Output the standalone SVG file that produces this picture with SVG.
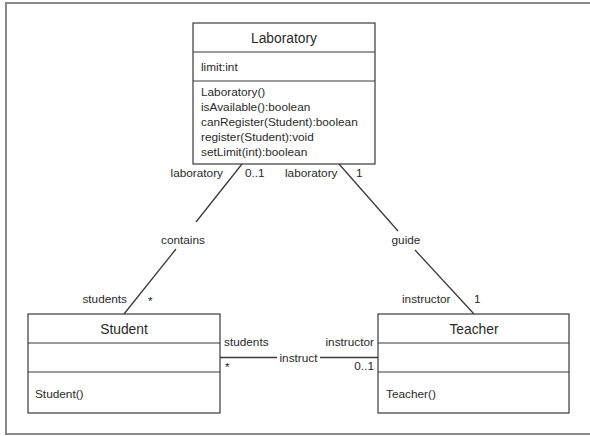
<svg xmlns="http://www.w3.org/2000/svg" width="590" height="436" viewBox="0 0 590 436">
  <style>
    .box { fill: #ffffff; stroke: #3a3a3a; stroke-width: 1.2; }
    .div { stroke: #3a3a3a; stroke-width: 1.2; }
    .edge { stroke: #3a3a3a; stroke-width: 1.3; fill: none; }
    .title { font-family: "Liberation Sans", Arial, sans-serif; font-size: 13.8px; font-weight: normal; fill: #2a2a2a; text-anchor: middle; }
    .t { font-family: "Liberation Sans", Arial, sans-serif; font-size: 11.8px; fill: #2a2a2a; }
    .end { text-anchor: end; }
    .mid { text-anchor: middle; }
  </style>

  <rect width="590" height="436" fill="#ffffff"/>
  <!-- frame -->
  <path d="M 592 3 L 6 3 L 6 434 L 592 434" fill="none" stroke="#8a8a8a" stroke-width="2"/>

  <!-- associations -->
  <g id="connectors">
    <g id="contains">
      <line class="edge" x1="242" y1="164" x2="196" y2="222"/>
      <line class="edge" x1="176" y1="249" x2="124" y2="314"/>
      <text class="t mid" x="183" y="244">contains</text>
      <text class="t end" x="223" y="177">laboratory</text>
      <text class="t" x="245" y="177">0..1</text>
      <text class="t end" x="127" y="303">students</text>
      <text class="t" x="148" y="305">*</text>
    </g>
    <g id="guide">
      <line class="edge" x1="339" y1="164" x2="398" y2="231"/>
      <line class="edge" x1="415" y1="250" x2="474" y2="314"/>
      <text class="t mid" x="406" y="244">guide</text>
      <text class="t" x="285" y="177">laboratory</text>
      <text class="t" x="356" y="177">1</text>
      <text class="t" x="402" y="303">instructor</text>
      <text class="t" x="474" y="303">1</text>
    </g>
    <g id="instruct">
      <line class="edge" x1="220" y1="357.5" x2="277" y2="357.5"/>
      <line class="edge" x1="320" y1="357.5" x2="378" y2="357.5"/>
      <text class="t mid" x="298.5" y="361.5">instruct</text>
      <text class="t" x="224" y="346">students</text>
      <text class="t" x="225" y="371">*</text>
      <text class="t end" x="374" y="346">instructor</text>
      <text class="t end" x="374" y="370">0..1</text>
    </g>
  </g>

  <g id="laboratory">
    <rect class="box" x="193" y="23" width="182" height="141"/>
    <line class="div" x1="193" y1="52" x2="375" y2="52"/>
    <line class="div" x1="193" y1="81" x2="375" y2="81"/>
    <text class="title" x="284" y="43">Laboratory</text>
    <text class="t" x="201" y="71">limit:int</text>
    <text class="t" x="201" y="96">Laboratory()</text>
    <text class="t" x="201" y="111">isAvailable():boolean</text>
    <text class="t" x="201" y="126">canRegister(Student):boolean</text>
    <text class="t" x="201" y="141">register(Student):void</text>
    <text class="t" x="201" y="156">setLimit(int):boolean</text>
  </g>

  <g id="student">
    <rect class="box" x="28" y="314" width="192" height="99"/>
    <line class="div" x1="28" y1="343" x2="220" y2="343"/>
    <line class="div" x1="28" y1="372" x2="220" y2="372"/>
    <text class="title" x="124" y="334">Student</text>
    <text class="t" x="35" y="398">Student()</text>
  </g>

  <g id="teacher">
    <rect class="box" x="378" y="314" width="191" height="99"/>
    <line class="div" x1="378" y1="343" x2="569" y2="343"/>
    <line class="div" x1="378" y1="372" x2="569" y2="372"/>
    <text class="title" x="474" y="334">Teacher</text>
    <text class="t" x="386" y="398">Teacher()</text>
  </g>
</svg>
